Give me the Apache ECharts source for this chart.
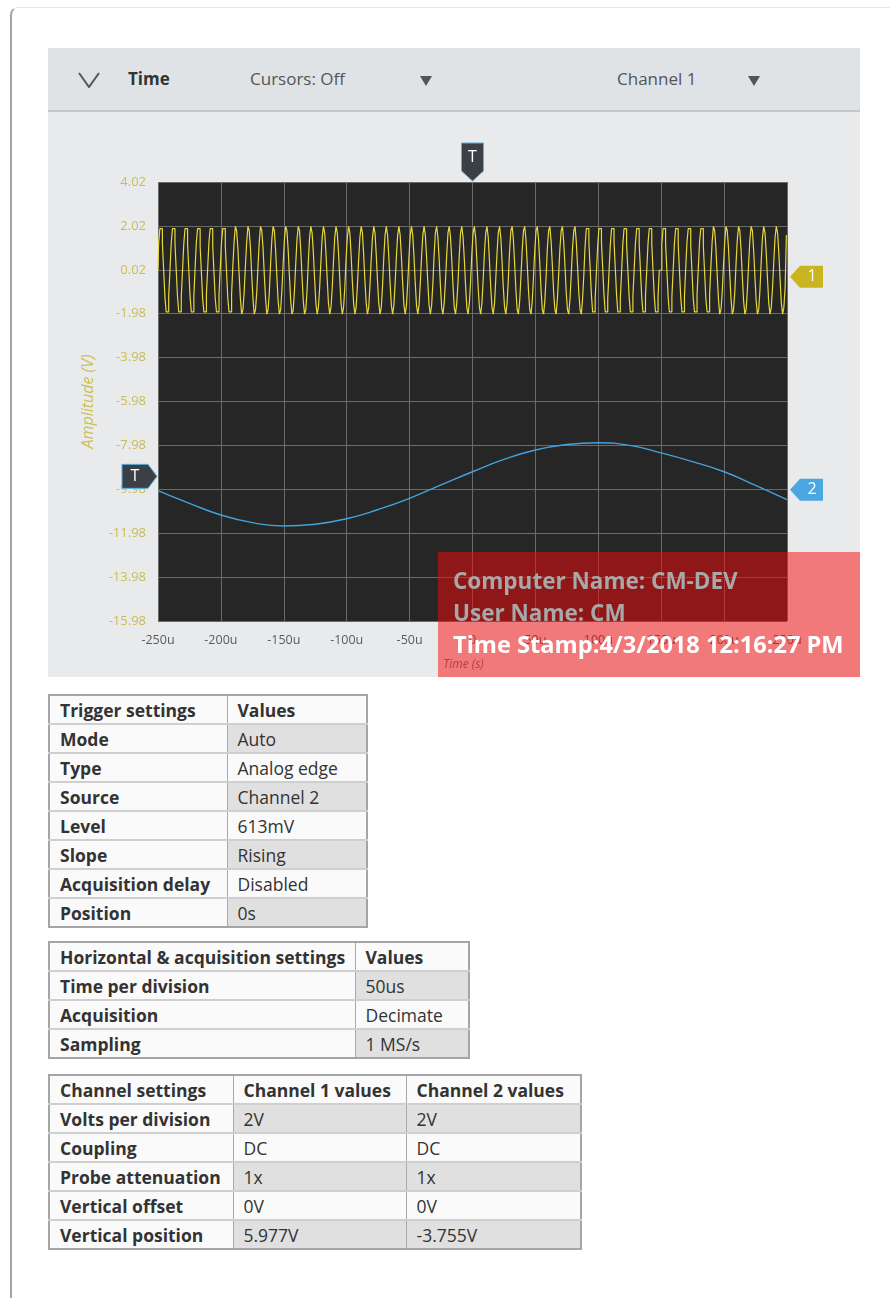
<!DOCTYPE html>
<html>
<head>
<meta charset="utf-8">
<script src="https://cdn.jsdelivr.net/npm/echarts@6/dist/echarts.min.js"></script>
<style>
  html, body { margin:0; padding:0; background:#fff; width:890px; height:1298px; overflow:hidden;
    font-family:"Open Sans","Noto Sans",sans-serif; color:#333; }
  #sheet { position:absolute; left:10px; top:7px; width:900px; height:1400px;
    border-left:2px solid #a3a3a3; border-top:1px solid #e6e6e6; border-top-left-radius:8px; }
  #bar { position:absolute; left:48px; top:48px; width:812px; height:62px; background:#dfe3e6;
    border-bottom:2px solid #c2c7cb; }
  #bar .t { position:absolute; top:0; line-height:62px; font-size:17px; color:#555; white-space:nowrap; }
  #bar .b { font-weight:700; color:#333; }
  #bar svg { position:absolute; }
  #panel { position:absolute; left:48px; top:112px; width:812px; height:565px; background:#e8eaec; }
  #chart { position:absolute; left:0; top:0; width:812px; height:565px; }
  #stamp { position:absolute; left:438px; top:552px; width:422px; height:125px;
    background:rgba(250,8,8,0.5); font-weight:700; font-size:22.5px; }
  #stamp div { position:absolute; left:15px; white-space:nowrap; }
  table { position:absolute; left:48px; border-collapse:collapse; table-layout:fixed;
    border:2px solid #a5a5a5; font-size:17.5px; color:#333; }
  td { height:27px; padding:0 0 0 10px; border-top:2px solid #cfcfcf; border-left:1px solid #a8a8a8;
    background:#fafafa; white-space:nowrap; overflow:hidden; line-height:24px; }
  tr:first-child td { border-top:none; font-weight:700; }
  td.k { font-weight:700; }
  td.g { background:#e0e0e0; }
</style>
</head>
<body>
<div id="sheet"></div>

<div id="bar">
  <svg style="left:30px;top:24px" width="22" height="16"><polyline points="1,1 11,15 21,1" fill="none" stroke="#555" stroke-width="2"/></svg>
  <div class="t b" style="left:80px">Time</div>
  <div class="t" style="left:202px">Cursors: Off</div>
  <svg style="left:372px;top:28px" width="12" height="10"><polygon points="0,0 12,0 6,10" fill="#555"/></svg>
  <div class="t" style="left:569px">Channel 1</div>
  <svg style="left:700px;top:28px" width="12" height="10"><polygon points="0,0 12,0 6,10" fill="#555"/></svg>
</div>

<div id="panel"><div id="chart"></div></div>

<div id="stamp">
  <div style="top:13px;color:#a8a8a8">Computer Name: CM-DEV</div>
  <div style="top:45px;color:#a8a8a8">User Name: CM</div>
  <div style="top:76px;color:#ffffff;font-size:23.6px">Time Stamp:4/3/2018 12:16:27 PM</div>
</div>

<table style="top:694px;width:318px">
  <colgroup><col style="width:178px"><col style="width:140px"></colgroup>
  <tr><td>Trigger settings</td><td>Values</td></tr>
  <tr><td class="k">Mode</td><td class="g">Auto</td></tr>
  <tr><td class="k">Type</td><td>Analog edge</td></tr>
  <tr><td class="k">Source</td><td class="g">Channel 2</td></tr>
  <tr><td class="k">Level</td><td>613mV</td></tr>
  <tr><td class="k">Slope</td><td class="g">Rising</td></tr>
  <tr><td class="k">Acquisition delay</td><td>Disabled</td></tr>
  <tr><td class="k">Position</td><td class="g">0s</td></tr>
</table>

<table style="top:941px;width:420px">
  <colgroup><col style="width:306px"><col style="width:114px"></colgroup>
  <tr><td>Horizontal &amp; acquisition settings</td><td>Values</td></tr>
  <tr><td class="k">Time per division</td><td class="g">50us</td></tr>
  <tr><td class="k">Acquisition</td><td>Decimate</td></tr>
  <tr><td class="k">Sampling</td><td class="g">1 MS/s</td></tr>
</table>

<table style="top:1074px;width:532px">
  <colgroup><col style="width:184px"><col style="width:173px"><col style="width:175px"></colgroup>
  <tr><td>Channel settings</td><td>Channel 1 values</td><td>Channel 2 values</td></tr>
  <tr><td class="k">Volts per division</td><td class="g">2V</td><td class="g">2V</td></tr>
  <tr><td class="k">Coupling</td><td>DC</td><td>DC</td></tr>
  <tr><td class="k">Probe attenuation</td><td class="g">1x</td><td class="g">1x</td></tr>
  <tr><td class="k">Vertical offset</td><td>0V</td><td>0V</td></tr>
  <tr><td class="k">Vertical position</td><td class="g">5.977V</td><td class="g">-3.755V</td></tr>
</table>

<script>
// Time window (microseconds) and sample spacing of channel 1 at 1 MS/s
const ch1StartUs = -250;
const ch1SampleUs = 1;

// Channel 1 samples (V), one per microsecond, ~100 kHz tone
const ch1Volts = [
  0.0,1.2,1.9,1.9,1.2,0.0,-1.2,-1.9,-1.9,-1.2,
  0.0,1.2,1.9,1.9,1.2,0.0,-1.2,-1.9,-1.9,-1.2,
  0.0,1.2,1.9,1.9,1.2,0.0,-1.2,-1.9,-1.9,-1.2,
  0.1,1.3,1.9,1.9,1.1,-0.1,-1.3,-1.9,-1.9,-1.1,
  0.1,1.3,1.9,1.9,1.1,-0.1,-1.3,-1.9,-1.9,-1.1,
  0.1,1.3,1.9,1.9,1.1,-0.1,-1.3,-1.9,-1.9,-1.1,
  0.2,1.3,2.0,1.8,1.0,-0.2,-1.3,-2.0,-1.8,-1.0,
  0.2,1.3,2.0,1.8,1.0,-0.2,-1.3,-2.0,-1.8,-1.0,
  0.2,1.3,2.0,1.8,1.0,-0.2,-1.3,-2.0,-1.8,-1.0,
  0.3,1.4,2.0,1.8,0.9,-0.3,-1.4,-2.0,-1.8,-0.9,
  0.3,1.4,2.0,1.8,0.9,-0.3,-1.4,-2.0,-1.8,-0.9,
  0.3,1.4,2.0,1.8,0.9,-0.3,-1.4,-2.0,-1.8,-0.9,
  0.4,1.5,2.0,1.7,0.8,-0.4,-1.5,-2.0,-1.7,-0.8,
  0.4,1.5,2.0,1.7,0.8,-0.4,-1.5,-2.0,-1.7,-0.8,
  0.4,1.5,2.0,1.7,0.8,-0.4,-1.5,-2.0,-1.7,-0.8,
  0.5,1.5,2.0,1.7,0.7,-0.5,-1.5,-2.0,-1.7,-0.7,
  0.5,1.5,2.0,1.7,0.7,-0.5,-1.5,-2.0,-1.7,-0.7,
  0.5,1.5,2.0,1.7,0.7,-0.5,-1.5,-2.0,-1.7,-0.7,
  0.6,1.6,2.0,1.6,0.6,-0.6,-1.6,-2.0,-1.6,-0.6,
  0.6,1.6,2.0,1.6,0.6,-0.6,-1.6,-2.0,-1.6,-0.6,
  0.6,1.6,2.0,1.6,0.6,-0.6,-1.6,-2.0,-1.6,-0.6,
  0.6,1.6,2.0,1.6,0.6,-0.6,-1.6,-2.0,-1.6,-0.6,
  0.7,1.7,2.0,1.5,0.5,-0.7,-1.7,-2.0,-1.5,-0.5,
  0.7,1.7,2.0,1.5,0.5,-0.7,-1.7,-2.0,-1.5,-0.5,
  0.7,1.7,2.0,1.5,0.5,-0.7,-1.7,-2.0,-1.5,-0.5,
  0.8,1.7,2.0,1.5,0.4,-0.8,-1.7,-2.0,-1.5,-0.4,
  0.8,1.7,2.0,1.5,0.4,-0.8,-1.7,-2.0,-1.5,-0.4,
  0.8,1.7,2.0,1.5,0.4,-0.8,-1.7,-2.0,-1.5,-0.4,
  0.9,1.8,2.0,1.4,0.3,-0.9,-1.8,-2.0,-1.4,-0.3,
  0.9,1.8,2.0,1.4,0.3,-0.9,-1.8,-2.0,-1.4,-0.3,
  0.9,1.8,2.0,1.4,0.3,-0.9,-1.8,-2.0,-1.4,-0.3,
  1.0,1.8,2.0,1.3,0.2,-1.0,-1.8,-2.0,-1.3,-0.2,
  1.0,1.8,2.0,1.3,0.2,-1.0,-1.8,-2.0,-1.3,-0.2,
  1.0,1.8,2.0,1.3,0.2,-1.0,-1.8,-2.0,-1.3,-0.2,
  1.1,1.9,1.9,1.3,0.1,-1.1,-1.9,-1.9,-1.3,-0.1,
  1.1,1.9,1.9,1.3,0.1,-1.1,-1.9,-1.9,-1.3,-0.1,
  1.1,1.9,1.9,1.3,0.1,-1.1,-1.9,-1.9,-1.3,-0.1,
  1.2,1.9,1.9,1.2,0.0,-1.2,-1.9,-1.9,-1.2,0.0,
  1.2,1.9,1.9,1.2,0.0,-1.2,-1.9,-1.9,-1.2,0.0,
  1.2,1.9,1.9,1.2,0.0,-1.2,-1.9,-1.9,-1.2,0.0,
  0.0,1.2,1.9,1.9,1.2,0.0,-1.2,-1.9,-1.9,-1.2,
  0.0,1.2,1.9,1.9,1.2,0.0,-1.2,-1.9,-1.9,-1.2,
  0.1,1.3,1.9,1.9,1.1,-0.1,-1.3,-1.9,-1.9,-1.1,
  0.1,1.3,1.9,1.9,1.1,-0.1,-1.3,-1.9,-1.9,-1.1,
  0.2,1.3,2.0,1.8,1.0,-0.2,-1.3,-2.0,-1.8,-1.0,
  0.2,1.3,2.0,1.8,1.0,-0.2,-1.3,-2.0,-1.8,-1.0,
  0.3,1.4,2.0,1.8,0.9,-0.3,-1.4,-2.0,-1.8,-0.9,
  0.3,1.4,2.0,1.8,0.9,-0.3,-1.4,-2.0,-1.8,-0.9,
  0.4,1.5,2.0,1.7,0.8,-0.4,-1.5,-2.0,-1.7,-0.8,
  0.4,1.5,2.0,1.7,0.8,-0.4,-1.5,-2.0,-1.7,-0.8,
  1.6
];

// Channel 2: slow sine, read every 25 us
const ch2TimesUs = [-250,-225,-200,-175,-150,-125,-100,-75,-50,-25,0,25,50,75,100,125,150,175,200,225,250];
const ch2Volts   = [-10.04,-10.62,-11.15,-11.50,-11.65,-11.57,-11.32,-10.90,-10.39,-9.78,-9.18,
                    -8.62,-8.19,-7.94,-7.86,-7.98,-8.32,-8.72,-9.18,-9.80,-10.45];

// Axis ranges and on-screen marker levels (V, µs)
const yMin = -15.98, yMax = 4.02, yStep = 2;
const xMinUs = -250, xMaxUs = 250, xStepUs = 50;
const trigTimeUs = 0;
const trigLevelV = -9.39;
const ch1GroundV = -0.3;
const ch2GroundV = -10.0;

const ch1Data = ch1Volts.map((v, i) => [ch1StartUs + i * ch1SampleUs, v]);
const ch2Data = ch2TimesUs.map((t, i) => [t, ch2Volts[i]]);

const chart = echarts.init(document.getElementById('chart'), null, { renderer: 'canvas' });
chart.setOption({
  animation: false,
  backgroundColor: 'transparent',
  grid: { left: 110, top: 70, width: 629, height: 439, show: true,
          backgroundColor: '#262626', borderWidth: 0 },
  xAxis: {
    type: 'value', min: xMinUs, max: xMaxUs, interval: xStepUs,
    axisLine: { show: false }, axisTick: { show: false },
    splitLine: { show: true, lineStyle: { color: '#6b6b6b', width: 1 } },
    axisLabel: { color: '#5a5a5a', fontSize: 12.5, margin: 13, fontFamily: 'Open Sans',
                 formatter: v => (v === 0 ? '0' : v + 'u') },
    name: 'Time (s)', nameLocation: 'middle', nameGap: 38,
    nameTextStyle: { color: '#777', fontSize: 12, fontStyle: 'italic', fontFamily: 'Open Sans',
                     padding: [0, 18, 0, 0] }
  },
  yAxis: {
    type: 'value', min: yMin, max: yMax, interval: yStep,
    axisLine: { show: false }, axisTick: { show: false },
    splitLine: { show: true, lineStyle: { color: '#6b6b6b', width: 1 } },
    axisLabel: { color: '#cbbd55', fontSize: 13, margin: 12, fontFamily: 'Open Sans',
                 formatter: v => v.toFixed(2) },
    name: 'Amplitude (V)', nameLocation: 'middle', nameGap: 62,
    nameTextStyle: { color: '#cbbd55', fontSize: 16, fontStyle: 'italic', fontFamily: 'Open Sans' }
  },
  series: [
    { name: 'Channel 1', type: 'line', data: ch1Data, showSymbol: false, silent: true, step: 'middle',
      lineStyle: { color: '#e8d83a', width: 1.2 } },
    { name: 'Channel 2', type: 'line', data: ch2Data, showSymbol: false, smooth: true, silent: true,
      lineStyle: { color: '#42a2dc', width: 1.4 } }
  ]
});

// Trigger and channel markers, placed from axis values
const toPx = (x, y) => chart.convertToPixel({ gridIndex: 0 }, [x, y]);
const trigTopPt = toPx(trigTimeUs, yMax);
const trigLeftPt = toPx(xMinUs, trigLevelV);
const ch1Pt = toPx(xMaxUs, ch1GroundV);
const ch2Pt = toPx(xMaxUs, ch2GroundV);
const markerText = (x, y, s) => ({ type: 'text', x, y, z: 11,
  style: { text: s, fill: '#fff', fontSize: 16, fontFamily: 'Open Sans', align: 'center', verticalAlign: 'middle' } });
const sideTag = (p, color) => ({ type: 'polygon', z: 10, shape: { points: [
    [p[0] + 3, p[1]], [p[0] + 13, p[1] - 11], [p[0] + 36, p[1] - 11],
    [p[0] + 36, p[1] + 11], [p[0] + 13, p[1] + 11]] },
  style: { fill: color } });

chart.setOption({
  graphic: [
    { type: 'polygon', z: 10, shape: { points: [
        [trigTopPt[0] - 11, trigTopPt[1] - 39], [trigTopPt[0] + 11, trigTopPt[1] - 39],
        [trigTopPt[0] + 11, trigTopPt[1] - 11], [trigTopPt[0], trigTopPt[1] - 1],
        [trigTopPt[0] - 11, trigTopPt[1] - 11]] },
      style: { fill: '#3b4046', stroke: '#5aaee0', lineWidth: 1 } },
    markerText(trigTopPt[0], trigTopPt[1] - 25, 'T'),
    { type: 'polygon', z: 10, shape: { points: [
        [trigLeftPt[0] - 36, trigLeftPt[1] - 12], [trigLeftPt[0] - 10, trigLeftPt[1] - 12],
        [trigLeftPt[0] - 1, trigLeftPt[1]], [trigLeftPt[0] - 10, trigLeftPt[1] + 12],
        [trigLeftPt[0] - 36, trigLeftPt[1] + 12]] },
      style: { fill: '#3b4046', stroke: '#5aaee0', lineWidth: 1 } },
    markerText(trigLeftPt[0] - 23, trigLeftPt[1], 'T'),
    sideTag(ch1Pt, '#c9b520'),
    markerText(ch1Pt[0] + 25, ch1Pt[1], '1'),
    sideTag(ch2Pt, '#4aa7e2'),
    markerText(ch2Pt[0] + 25, ch2Pt[1], '2')
  ]
});
</script>
</body>
</html>
